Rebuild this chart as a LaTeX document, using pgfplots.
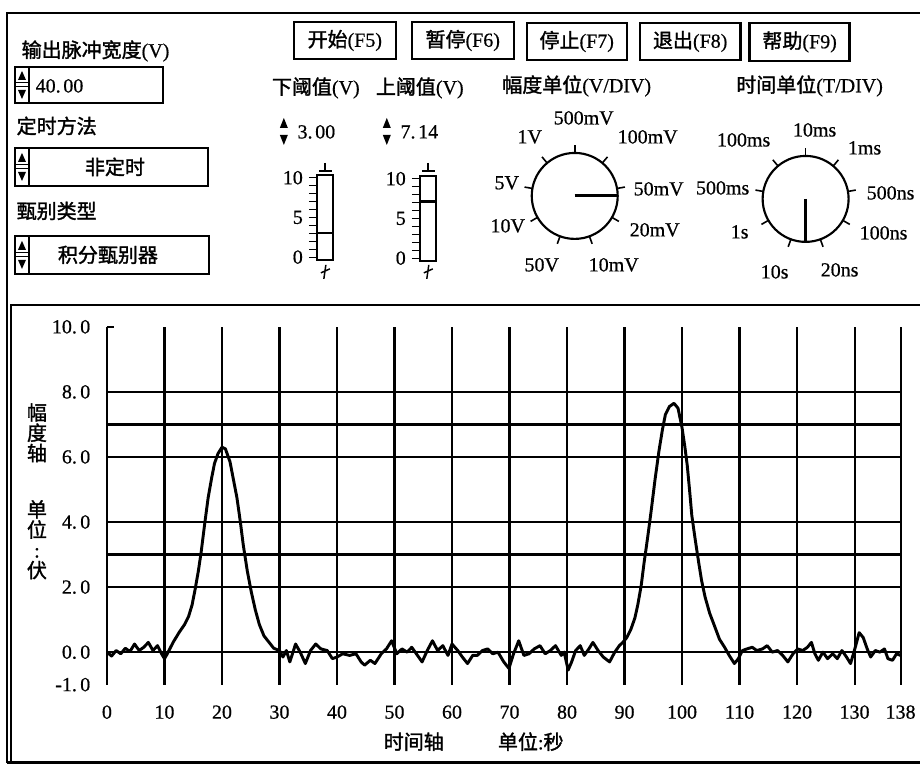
\documentclass[border=0pt]{standalone}
\usepackage{fontspec}
\setmainfont{Liberation Serif}[FakeBold=0.6]
\newfontfamily\cjk{Noto Sans CJK SC}[FakeBold=1.6]
\usepackage{pgfplots}
\pgfplotsset{compat=1.18}
\newcommand\fs{\fontsize{15}{17}\selectfont}
\begin{document}
\begin{tikzpicture}[font=\fs]
\begin{scope}[x=0.75pt,y=-0.75pt]
\path[use as bounding box] (0,0) rectangle (920,764);
% frames
\draw[line width=2pt] (7,763) -- (7,13) -- (920,13);
\draw[line width=1.8pt] (11,763) -- (11,305) -- (920,305);
\draw[line width=1.8pt] (7,763) -- (920,763);
% left controls
\node[anchor=west] at (17,51) {{\cjk 输出脉冲宽度}(V)};
\draw[line width=1.6pt] (15,67) rectangle (163,103);
\draw[line width=1.2pt] (29,67) -- (29,103);
\fill (18,80) -- (26,80) -- (22,71) -- cycle;
\draw[line width=0.8pt] (15,83) -- (29,83) (15,87) -- (29,87);
\fill (18,90) -- (26,90) -- (22,99) -- cycle;
\node[anchor=west] at (31,86) {40.\kern2pt00};
\node[anchor=west] at (12,126) {\cjk 定时方法};
\draw[line width=1.6pt] (15,148) rectangle (208,186);
\draw[line width=1.2pt] (29,148) -- (29,186);
\fill (18,162) -- (26,162) -- (22,153) -- cycle;
\draw[line width=0.8pt] (15,165) -- (29,165) (15,169) -- (29,169);
\fill (18,172) -- (26,172) -- (22,181) -- cycle;
\node at (115,167) {\cjk 非定时};
\node[anchor=west] at (12,211) {\cjk 甄别类型};
\draw[line width=1.6pt] (15,236) rectangle (209,274);
\draw[line width=1.2pt] (29,236) -- (29,274);
\fill (18,250) -- (26,250) -- (22,241) -- cycle;
\draw[line width=0.8pt] (15,253) -- (29,253) (15,257) -- (29,257);
\fill (18,260) -- (26,260) -- (22,269) -- cycle;
\node at (108,255) {\cjk 积分甄别器};
% buttons
\draw[line width=1.8pt] (294,22) rectangle (396,59);
\node at (345,40.5) {{\cjk 开始}(F5)};
\draw[line width=1.8pt] (412,22) rectangle (514,59);
\node at (463,40.5) {{\cjk 暂停}(F6)};
\draw[line width=1.8pt] (527,23) rectangle (627,60);
\node at (577,41.5) {{\cjk 停止}(F7)};
\draw[line width=1.8pt] (640,23) rectangle (741,60);
\node at (690.5,41.5) {{\cjk 退出}(F8)};
\draw[line width=1.8pt] (750,23) rectangle (850,61);
\node at (800,42) {{\cjk 帮助}(F9)};
% headers
\node at (316,88) {{\cjk 下阈值}(V)};
\node at (420,88) {{\cjk 上阈值}(V)};
\node at (577,86) {{\cjk 幅度单位}(V/DIV)};
\node at (810,86) {{\cjk 时间单位}(T/DIV)};
% threshold spinners
\fill (280,128) -- (288,128) -- (284,118) -- cycle;
\fill (280,135) -- (288,135) -- (284,145) -- cycle;
\node[anchor=west] at (293,132) {3.\kern2pt00};
\fill (383,128) -- (391,128) -- (387,118) -- cycle;
\fill (383,135) -- (391,135) -- (387,145) -- cycle;
\node[anchor=west] at (396,132) {7.\kern2pt14};
% slider decorations
\draw[line width=1.1pt] (325,163) -- (325,171) (319,171) -- (332,171);
\draw[line width=1.1pt] (326,265) -- (324,279) (321,273) -- (330,269);
\draw[line width=1.1pt] (428,163) -- (428,171) (422,171) -- (435,171);
\draw[line width=1.1pt] (429,265) -- (427,279) (424,273) -- (433,269);
% knob 1
\draw[line width=1.6pt] (575,196) circle (43);
\foreach \a in {90,130,170,210,250,50,10,-30,-70}
  \draw[line width=1.2pt] (575,196) ++(-\a:43) -- ++(-\a:8);
\draw[line width=2.2pt] (575,196) -- (618,196);
\node at (584,118) {500mV};
\node at (530,137) {1V};
\node at (648,137) {100mV};
\node at (507,183) {5V};
\node at (659,189) {50mV};
\node at (508,226) {10V};
\node at (655,230) {20mV};
\node at (542,265) {50V};
\node at (614,265) {10mV};
% knob 2
\draw[line width=1.6pt] (806,199) circle (43);
\foreach \a in {90,130,170,210,250,50,10,-30,-70}
  \draw[line width=1.2pt] (806,199) ++(-\a:43) -- ++(-\a:8);
\draw[line width=2.2pt] (806,199) -- (806,242);
\node at (815,130) {10ms};
\node at (744,140) {100ms};
\node at (865,148) {1ms};
\node at (723,188) {500ms};
\node at (891,193) {500ns};
\node at (740,232) {1s};
\node at (884,233) {100ns};
\node at (775,272) {10s};
\node at (840,270) {20ns};
% axis labels
\node[align=center, font=\cjk\fontsize{15}{15.2}\selectfont] at (37,433) {幅\\度\\轴};
\node[align=center, font=\cjk\fontsize{15}{15.2}\selectfont] at (37,540) {单\\位\\{\rmfamily:}\\伏};
\node at (414,742) {\cjk 时间轴};
\node at (531,742) {{\cjk 单位}:{\cjk 秒}};
\end{scope}

% sliders
\begin{axis}[at={(237.75pt,-195pt)}, anchor=south west, scale only axis,
  width=12pt, height=63.75pt, xmin=0, xmax=1, ymin=-0.35, ymax=10.35,
  xtick=\empty, ytick={0,5,10}, yticklabels={0,5,10},
  minor ytick={1,2,3,4,6,7,8,9}, tick align=outside,
  major tick length=6pt, minor tick length=6pt,
  tick style={black, line width=0.9pt}, axis line style={line width=1.4pt},
  yticklabel style={font=\fs, xshift=-1pt}, ytick pos=left]
\addplot[black, line width=1.8pt] coordinates {(0,3.00) (1,3.00)};
\end{axis}
\begin{axis}[at={(315pt,-195.75pt)}, anchor=south west, scale only axis,
  width=12pt, height=63.75pt, xmin=0, xmax=1, ymin=-0.35, ymax=10.35,
  xtick=\empty, ytick={0,5,10}, yticklabels={0,5,10},
  minor ytick={1,2,3,4,6,7,8,9}, tick align=outside,
  major tick length=6pt, minor tick length=6pt,
  tick style={black, line width=0.9pt}, axis line style={line width=1.4pt},
  yticklabel style={font=\fs, xshift=-1pt}, ytick pos=left]
\addplot[black, line width=1.8pt] coordinates {(0,7.14) (1,7.14)};
\end{axis}

% main chart
\begin{axis}[at={(80.25pt,-513.75pt)}, anchor=south west, scale only axis,
  width=595.5pt, height=268.5pt,
  xmin=0, xmax=138, ymin=-1, ymax=10,
  axis line style={draw=none}, major tick length=0pt,
  xtick={0,10,20,30,40,50,60,70,80,90,100,110,120,130,138},
  xticklabels={0,10,20,30,40,50,60,70,80,90,100,110,120,130,138},
  xmajorgrids,
  ytick={-1,0,2,4,6,8,10},
  yticklabels={-1.\kern2.5pt0,0.\kern2.5pt0,2.\kern2.5pt0,4.\kern2.5pt0,6.\kern2.5pt0,8.\kern2.5pt0,10.\kern2.5pt0},
  extra y ticks={0,2,3,4,6,7,8},
  extra y tick labels={},
  extra y tick style={ymajorgrids=true},
  major grid style={black, line width=1.6pt},
  tick label style={font=\fs},
  xticklabel style={yshift=-12pt},
  yticklabel style={xshift=-9pt},
  clip=false]
\addplot[black, line width=2.2pt, line join=round] coordinates {
(0,0.0) (0.8,-0.12) (1.6,0.05) (2.4,-0.05) (3.2,0.12) (4.0,0.02) (4.8,0.25)
(5.6,0.05) (6.4,0.15) (7.2,0.3) (8.0,0.05) (8.8,0.2) (9.5,-0.05) (10.0,-0.2)
(10.5,-0.05) (11.5,0.3) (12.6,0.62) (13.5,0.85) (14.2,1.1) (14.8,1.45) (15.3,1.9)
(15.9,2.5) (16.4,3.1) (17.0,3.95) (17.6,4.75) (18.2,5.35) (18.7,5.8) (19.3,6.1)
(20.0,6.3) (20.6,6.25) (21.4,5.85) (22.0,5.3) (22.6,4.75) (23.2,4.0) (23.7,3.3)
(24.4,2.5) (25.1,1.85) (25.8,1.3) (26.5,0.85) (27.3,0.5) (28.2,0.3) (29.0,0.12)
(30.0,0.05)
(30.6,-0.15) (31.2,0.05) (31.8,-0.3) (32.8,0.25) (33.6,0.0) (34.5,-0.35)
(35.4,0.05) (36.3,0.25) (37.2,0.1) (38.3,0.05) (39.2,-0.2) (40.0,-0.15)
(41.0,-0.05) (42.2,-0.1) (43.3,-0.05) (44.2,-0.3) (44.8,-0.4) (45.8,-0.25)
(46.6,-0.35) (47.7,-0.05) (48.6,0.1) (49.5,0.35) (50.4,-0.05) (51.3,0.1)
(52.2,0.0) (53.0,0.15) (54.0,-0.1) (54.8,-0.3) (55.7,0.05) (56.6,0.35)
(57.5,0.05) (58.4,0.2) (59.3,-0.1) (60.0,0.25) (61.0,0.05) (61.8,-0.15)
(62.7,-0.35) (63.6,-0.1) (64.4,-0.1) (65.3,0.05) (66.2,0.1) (67.1,-0.05)
(68.0,0.0) (69.0,-0.3) (69.9,-0.5) (70.7,-0.05) (71.6,0.35) (72.5,-0.1)
(73.4,-0.05) (74.3,0.1) (75.3,0.2) (76.2,-0.05) (77.1,0.05) (78.0,0.2)
(79.0,-0.1) (79.5,0.0) (80.2,-0.55) (80.8,-0.3) (81.5,0.05) (82.3,0.2)
(83.0,-0.1) (83.8,0.1) (84.5,0.3) (85.4,0.05) (86.3,-0.15) (87.4,-0.3)
(88.3,0.0) (89.1,0.2) (89.7,0.3)
(90.4,0.45) (91.1,0.7) (91.8,1.05) (92.3,1.45) (92.9,2.05) (93.4,2.75) (94.0,3.5)
(94.6,4.3) (95.3,5.3) (96.0,6.2) (96.6,6.85) (97.1,7.3) (97.8,7.55) (98.6,7.65)
(99.3,7.5) (100.0,6.9) (100.5,6.3) (100.9,5.75) (101.3,5.0) (101.7,4.2)
(102.3,3.45) (102.9,2.75) (103.4,2.2) (104.0,1.7) (104.8,1.2) (105.7,0.78)
(106.5,0.4) (107.4,0.15) (108.2,-0.1) (109.1,-0.35)
(109.8,-0.2) (110.5,0.05) (111.3,0.1) (112.2,0.15) (113.0,0.05) (114.0,0.1)
(114.8,0.2) (115.7,0.0) (116.6,0.05) (117.5,-0.1) (118.4,-0.3) (119.3,-0.05)
(120.1,0.1) (121.0,0.05) (121.8,0.15) (122.5,0.3) (123.1,-0.05) (123.7,-0.25)
(124.5,0.0) (125.3,-0.2) (126.2,-0.05) (127.0,-0.2) (127.8,0.05) (128.6,-0.15)
(129.3,-0.35) (129.8,-0.05) (130.2,0.2) (130.8,0.6) (131.5,0.45) (132.2,0.1)
(132.8,-0.15) (133.6,0.05) (134.4,0.0) (135.2,0.1) (135.8,-0.2) (136.6,-0.25)
(137.3,-0.05) (138.0,-0.1)
};
\draw[black, line width=1.4pt] (axis cs:0,10) -- (axis cs:1.3,10);
\end{axis}
\end{tikzpicture}
\end{document}
